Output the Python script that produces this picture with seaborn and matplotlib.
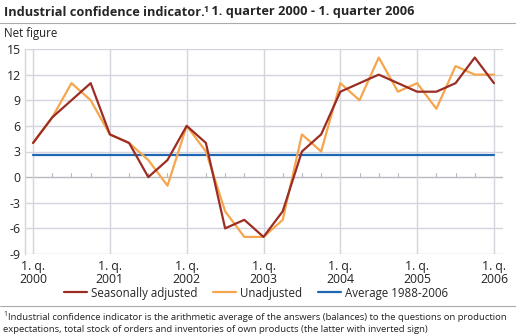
import matplotlib
matplotlib.use("Agg")
import matplotlib.pyplot as plt
import seaborn as sns
import pandas as pd
import numpy as np
from matplotlib.lines import Line2D

# Quarterly net figures, 1. quarter 2000 to 1. quarter 2006
quarters = list(range(25))
seasonally_adjusted = [4, 7, 9, 11, 5, 4, 0, 2, 6, 4, -6, -5, -7, -4, 3, 5,
                       10, 11, 12, 11, 10, 10, 11, 14, 11]
unadjusted = [4, 7, 11, 9, 5, 4, 2, -1, 6, 3, -4, -7, -7, -5, 5, 3,
              11, 9, 14, 10, 11, 8, 13, 12, 12]
average_1988_2006 = 2.6
year_labels = ["1. q.\n2000", "1. q.\n2001", "1. q.\n2002", "1. q.\n2003",
               "1. q.\n2004", "1. q.\n2005", "1. q.\n2006"]
y_ticks = [15, 12, 9, 6, 3, 0, -3, -6, -9]

series_names = ["Seasonally adjusted", "Unadjusted", "Average 1988-2006"]
colors = {"Seasonally adjusted": "#9b2d24",
          "Unadjusted": "#f5a64d",
          "Average 1988-2006": "#1f67b3"}

df = pd.DataFrame({
    "quarter": quarters * 3,
    "value": seasonally_adjusted + unadjusted + [average_1988_2006] * len(quarters),
    "series": [series_names[0]] * 25 + [series_names[1]] * 25 + [series_names[2]] * 25,
})

sns.set_style("white")
plt.rcParams["font.family"] = ["Open Sans", "DejaVu Sans"]
plt.rcParams["axes.unicode_minus"] = False

fig = plt.figure(figsize=(5.16, 3.35), dpi=100)
ax = fig.add_axes([25 / 516, 1 - 254 / 335, (503 - 25) / 516, (254 - 49) / 335])

grid_c = "#d4d4dc"
for v in y_ticks:
    ax.axhline(v, color="#b8b8c0" if v == 0 else grid_c, lw=1.0, zorder=0)
for x in range(0, 25, 4):
    ax.axvline(x, color=grid_c, lw=1.0, zorder=0)
# quarter ticks on the zero line
for x in range(25):
    if x % 4:
        ax.plot([x, x], [0, 0.5], color="#b8b8c0", lw=0.8, zorder=0)

sns.lineplot(data=df, x="quarter", y="value", hue="series",
             hue_order=[series_names[2], series_names[1], series_names[0]],
             palette=colors, ax=ax, legend=False, linewidth=1.6,
             estimator=None, sort=False)

ax.set_xlim(-0.42, 24.47)
ax.set_ylim(-9, 15)
ax.set_yticks(y_ticks)
ax.set_yticklabels([str(v) for v in y_ticks])
ax.set_xticks(range(0, 25, 4))
ax.set_xticklabels(year_labels, linespacing=1.0)
ax.tick_params(axis="both", length=0, labelsize=8.8, colors="#222222")
ax.tick_params(axis="y", pad=3)
ax.tick_params(axis="x", pad=4)
ax.set_xlabel("")
ax.set_ylabel("")
for s in ["top", "right", "bottom"]:
    ax.spines[s].set_visible(False)
ax.spines["left"].set_color(grid_c)
ax.spines["left"].set_linewidth(1.0)

handles = [Line2D([], [], color=colors[n], lw=1.6) for n in series_names]
fig.legend(handles, series_names, loc="center", bbox_to_anchor=(256 / 516, 1 - 293 / 335),
           ncol=3, frameon=False, fontsize=8.3, handlelength=2.0, handletextpad=0.3,
           columnspacing=1.4)

# Title with superscript reference
fig.canvas.draw()
r = fig.canvas.get_renderer()
t1 = fig.text(4 / 516, 1 - 12 / 335, "Industrial confidence indicator.", fontsize=9.2,
              fontweight="bold", va="center", ha="left")
w1 = t1.get_window_extent(r)
t2 = fig.text(w1.x1 / 516 - 0.002, 1 - 9 / 335, "1", fontsize=6.3, fontweight="bold",
              va="center", ha="left")
w2 = t2.get_window_extent(r)
fig.text(w2.x1 / 516 - 0.002, 1 - 12 / 335, " 1. quarter 2000 - 1. quarter 2006", fontsize=9.2,
         fontweight="bold", va="center", ha="left")
fig.add_artist(Line2D([0, 1], [1 - 23 / 335] * 2, color="#aaaaaa", lw=0.8))

fig.text(4 / 516, 1 - 33 / 335, "Net figure", fontsize=8.3, va="center", ha="left",
         color="#222222")

# Footnote
fig.add_artist(Line2D([0, 1], [1 - 306 / 335] * 2, color="#aaaaaa", lw=0.8))
f1 = fig.text(3 / 516, 1 - 315 / 335, "1", fontsize=5, va="center", ha="left")
wf = f1.get_window_extent(r)
fig.text(wf.x1 / 516 + 0.002, 1 - 318 / 335,
         "Industrial confidence indicator is the arithmetic average of the answers (balances) to the questions on production",
         fontsize=6.8, va="center", ha="left", color="#222222")
fig.text(3 / 516, 1 - 330 / 335,
         "expectations, total stock of orders and inventories of own products (the latter with inverted sign)",
         fontsize=6.8, va="center", ha="left", color="#222222")

fig.savefig("out.png", dpi=100)
